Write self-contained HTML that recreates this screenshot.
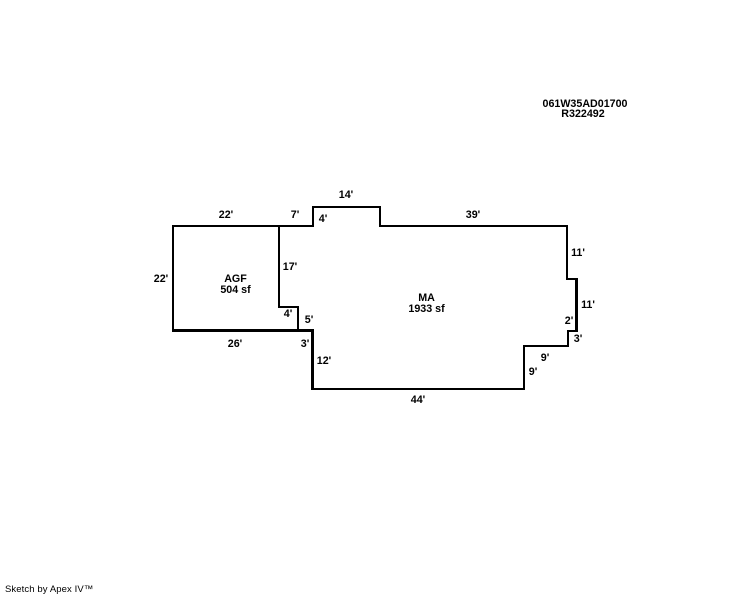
<!DOCTYPE html>
<html>
<head>
<meta charset="utf-8">
<style>
html,body{margin:0;padding:0;background:#fff;width:744px;height:595px;overflow:hidden}
svg{display:block}
text{font-family:"Liberation Sans",Arial,sans-serif;font-weight:bold;font-size:10.7px;fill:#000;text-anchor:middle}
.f{font-weight:normal;font-size:9.5px;text-anchor:start;letter-spacing:.1px}
</style>
</head>
<body>
<svg width="744" height="595" viewBox="0 0 744 595" xmlns="http://www.w3.org/2000/svg">
<g fill="none" stroke="#000" stroke-width="2" shape-rendering="crispEdges" stroke-linecap="butt" stroke-linejoin="miter">
<path d="M173 226H313V207H380V226H567V279H577"/>
<path d="M576.500 278V332" stroke-width="3"/>
<path d="M577 331H568V346H524V389H313"/>
<path d="M312.500 390V330" stroke-width="3"/>
<path d="M314 330.500H173" stroke-width="3"/>
<path d="M173 332V225"/>
<path d="M279 226V307H298V331"/>
</g>
<text x="585" y="107">061W35AD01700</text>
<text x="583" y="117">R322492</text>
<text x="346" y="198">14'</text>
<text x="226" y="218">22'</text>
<text x="295" y="218">7'</text>
<text x="323" y="222">4'</text>
<text x="473" y="218">39'</text>
<text x="161" y="282">22'</text>
<text x="290" y="270">17'</text>
<text x="235.500" y="282">AGF</text>
<text x="235.500" y="293">504 sf</text>
<text x="288" y="317">4'</text>
<text x="309" y="323">5'</text>
<text x="235" y="347">26'</text>
<text x="305" y="347">3'</text>
<text x="324" y="364">12'</text>
<text x="578" y="256">11'</text>
<text x="588" y="308">11'</text>
<text x="569" y="324">2'</text>
<text x="578" y="342">3'</text>
<text x="545" y="361">9'</text>
<text x="533" y="375">9'</text>
<text x="418" y="403">44'</text>
<text x="426.500" y="301">MA</text>
<text x="426.500" y="312">1933 sf</text>
<text class="f" x="5" y="592">Sketch by Apex IV™</text>
</svg>
</body>
</html>
